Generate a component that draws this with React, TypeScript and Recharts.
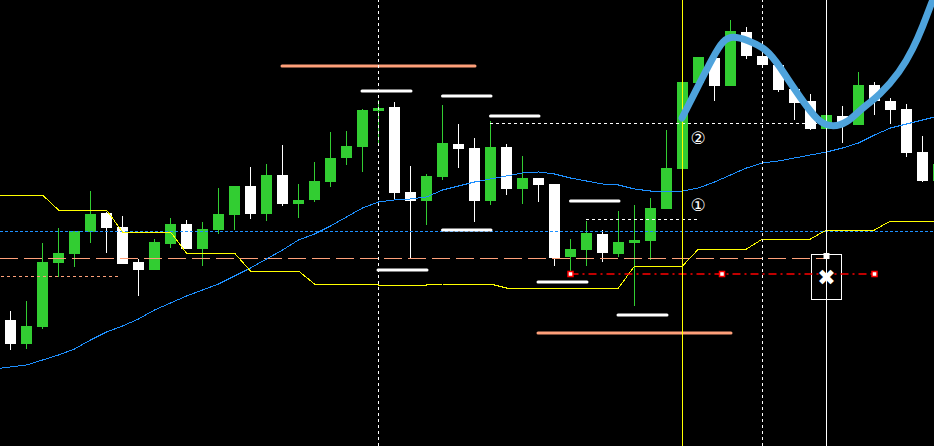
import { ComposedChart, Bar, Line, XAxis, YAxis, ReferenceLine, ReferenceArea, ReferenceDot } from 'recharts'

// Candles, bar index 0..58 (price in chart points, higher = up)
const OPEN = [126, 102, 119, 183, 192, 214, 233, 219, 184, 176, 202, 222, 197, 216, 231, 260, 232, 271, 242, 246, 264, 288, 299, 335, 339, 254, 245, 269, 302, 298, 245, 299, 257, 268, 262, 189, 196, 212, 192, 203, 205, 237, 277, 363, 388, 360, 414, 390, 381, 357, 345, 317, 330, 321, 361, 345, 337, 294, 265]
const HIGH = [135, 145, 203, 218, 215, 255, 234, 230, 187, 207, 228, 226, 224, 258, 260, 279, 282, 301, 262, 284, 314, 315, 337, 346, 344, 280, 272, 341, 322, 308, 325, 302, 290, 268, 262, 207, 225, 216, 235, 241, 248, 316, 364, 389, 391, 426, 419, 396, 384, 359, 352, 333, 340, 374, 364, 348, 342, 310, 286]
const LOW = [96, 97, 117, 169, 179, 203, 193, 182, 150, 176, 198, 197, 180, 212, 216, 227, 225, 240, 228, 244, 259, 281, 274, 303, 246, 188, 221, 266, 278, 224, 241, 251, 242, 244, 180, 170, 180, 184, 189, 140, 186, 237, 277, 363, 345, 360, 387, 381, 354, 326, 316, 317, 303, 321, 331, 322, 289, 264, 263]
const CLOSE = [102, 120, 184, 193, 215, 232, 218, 182, 176, 204, 222, 197, 217, 232, 260, 232, 271, 242, 246, 265, 288, 300, 336, 338, 253, 245, 270, 303, 297, 245, 299, 257, 268, 261, 188, 197, 213, 193, 204, 206, 238, 278, 364, 389, 360, 415, 390, 381, 356, 343, 317, 331, 322, 361, 345, 336, 293, 265, 282]

// Indicators, bar index -1..58
const MA = [77, 79, 81, 86, 91, 97, 106, 114, 120, 127, 136, 143, 150, 156, 162, 170, 178, 187, 196, 206, 212, 220, 229, 238, 244, 246, 247, 249, 256, 260, 264, 267, 270, 273, 274, 272, 268, 265, 262, 261, 257, 255, 255, 255, 258, 264, 271, 278, 283, 285, 288, 291, 294, 298, 303, 311, 318, 322, 326, 330]
const STOP = [251, 251, 251, 251, 236, 236, 236, 236, 214, 214, 214, 214, 193, 193, 193, 193, 175, 175, 175, 175, 162, 162, 162, 162, 161, 161, 161, 161, 162, 162, 162, 162, 158, 158, 158, 158, 158, 158, 158, 158, 180, 180, 180, 180, 197, 197, 197, 197, 207, 207, 207, 207, 216, 216, 216, 216, 225, 225, 225, 225]

// Hand-drawn curve
const CURVE_I = [41.97, 42.91, 43.91, 44.53, 45.16, 46.03, 47.28, 48.09, 48.91, 49.78, 50.59, 51.41, 52.28, 53.09, 54.34, 55.59, 56.41, 57.03, 57.59, 57.84]
const CURVE_P = [328, 358, 389, 406, 410, 406, 397, 379, 359, 339, 323, 319, 323, 336, 351, 374, 397, 420, 444, 454]

// Drawn objects
const WHITE_BARS = [
  { from: 21.97, to: 25.03, price: 355 },
  { from: 27, to: 30.03, price: 350 },
  { from: 30, to: 33.03, price: 330 },
  { from: 27, to: 30.03, price: 216 },
  { from: 22.97, to: 26.03, price: 176 },
  { from: 35, to: 38.03, price: 245 },
  { from: 32.97, to: 36.03, price: 164 },
  { from: 37.97, to: 41.03, price: 131 },
]
const SALMON_BARS = [
  { from: 16.97, to: 29.03, price: 380 },
  { from: 32.97, to: 45.03, price: 113 },
]
const DOTTED = [
  { from: 29.97, to: 51, price: 323 },
  { from: 35.97, to: 42.9, price: 227 },
]
const RED_POINTS = [35, 44.47, 54]
const RED_LEVEL = 172
const BLUE_LEVEL = 215
const SALMON_LEVEL = 188
const SALMON_SHORT = { from: -0.6, to: 6.8, price: 170 }
const V_DASHED = [23, 47]
const V_YELLOW = 42
const V_WHITE = 51
const LABELS = [
  { i: 42.97, price: 308, text: '②' },
  { i: 42.97, price: 241, text: '①' },
]

const candles = OPEN.map((o, i) => ({ i, open: o, high: HIGH[i], low: LOW[i], close: CLOSE[i] }))
const lines = MA.map((v, j) => ({ i: j - 1, ma: v, stop: STOP[j] }))
const curve = CURVE_I.map((i, j) => ({ i, p: CURVE_P[j] }))

function Candle(props: any) {
  const { x, y, width, height, payload } = props
  if (x == null || y == null) return null
  const { open, close, high, low } = payload
  const color = close >= open ? '#32CD32' : '#FFFFFF'
  const h = Math.abs(height)
  const top0 = height >= 0 ? y : y + height
  const span = high - low || 1
  const py = (v: number) => top0 + ((high - v) / span) * h
  const cx = x + width / 2
  const t = py(Math.max(open, close))
  const b = py(Math.min(open, close))
  return (
    <g shapeRendering="crispEdges">
      <rect x={cx - 0.5} y={top0} width={1} height={h} fill={color} />
      <rect x={cx - 5.5} y={t} width={11} height={Math.max(b - t, 2)} fill={color} />
    </g>
  )
}

const seg = (from: number, to: number, price: number) => [
  { x: from, y: price },
  { x: to, y: price },
] as any

export default function App() {
  return (
    <div style={{ width: 934, height: 446, background: '#000' }}>
      <style>{'body{margin:0;background:#000}'}</style>
      <ComposedChart width={934} height={446} data={candles} margin={{ top: 0, right: 0, bottom: 0, left: 0 }}>
        <XAxis dataKey="i" type="number" domain={[-0.65625, 57.71875]} allowDataOverflow hide />
        <YAxis type="number" domain={[0, 446]} allowDataOverflow hide />

        <ReferenceLine y={BLUE_LEVEL} stroke="#1E90FF" strokeDasharray="3 2" shapeRendering="crispEdges" ifOverflow="hidden" />
        <ReferenceLine segment={seg(-0.66, V_WHITE, SALMON_LEVEL)} stroke="#FFA07A" strokeDasharray="18 6" shapeRendering="crispEdges" ifOverflow="hidden" />
        <ReferenceLine segment={seg(SALMON_SHORT.from, SALMON_SHORT.to, SALMON_SHORT.price)} stroke="#FFA07A" strokeDasharray="3 3" shapeRendering="crispEdges" ifOverflow="hidden" />

        <Bar dataKey={(d: any) => [d.low, d.high]} barSize={11} shape={Candle} isAnimationActive={false} />

        <Line data={lines} dataKey="ma" type="linear" stroke="#1E90FF" strokeWidth={1} shapeRendering="crispEdges" dot={false} isAnimationActive={false} />
        <Line data={lines} dataKey="stop" type="linear" stroke="#FFFF00" strokeWidth={1} shapeRendering="crispEdges" dot={false} isAnimationActive={false} />

        {DOTTED.map((d, n) => (
          <ReferenceLine key={'d' + n} segment={seg(d.from, d.to, d.price)} stroke="#FFFFFF" strokeDasharray="3 3" shapeRendering="crispEdges" ifOverflow="hidden" />
        ))}
        <ReferenceLine segment={seg(RED_POINTS[0], RED_POINTS[2], RED_LEVEL)} stroke="#FF0000" strokeWidth={1.5} strokeDasharray="8 4 2 4" ifOverflow="hidden" />
        {WHITE_BARS.map((d, n) => (
          <ReferenceLine key={'w' + n} segment={seg(d.from, d.to, d.price)} stroke="#FFFFFF" strokeWidth={3} strokeLinecap="round" ifOverflow="hidden" />
        ))}
        {SALMON_BARS.map((d, n) => (
          <ReferenceLine key={'s' + n} segment={seg(d.from, d.to, d.price)} stroke="#FFA07A" strokeWidth={3} strokeLinecap="round" ifOverflow="hidden" />
        ))}

        {V_DASHED.map((v) => (
          <ReferenceLine key={'v' + v} x={v} stroke="#FFFFFF" strokeDasharray="3 3" shapeRendering="crispEdges" />
        ))}
        <ReferenceLine x={V_YELLOW} stroke="#FFFF00" shapeRendering="crispEdges" />
        <ReferenceLine x={V_WHITE} stroke="#FFFFFF" shapeRendering="crispEdges" />

        <ReferenceArea x1={50.09} x2={51.91} y1={147} y2={192} fill="none" fillOpacity={0} stroke="#FFFFFF" strokeWidth={1} shapeRendering="crispEdges" />
        <ReferenceDot x={V_WHITE} y={190} r={3} shape={(p: any) => <rect x={p.cx - 3} y={p.cy - 3} width={6} height={6} fill="#FFFFFF" />} />
        <ReferenceDot x={V_WHITE} y={169} r={3} shape={(p: any) => (
          <text x={p.cx} y={p.cy} textAnchor="middle" dominantBaseline="central" fontSize={22} fontWeight="bold" fontFamily="DejaVu Sans" fill="#FFFFFF">✖</text>
        )} />
        {RED_POINTS.map((v) => (
          <ReferenceDot key={'r' + v} x={v} y={RED_LEVEL} r={3} shape={(p: any) => (
            <rect x={p.cx - 2.5} y={p.cy - 2.5} width={5} height={5} fill="#FFFFFF" stroke="#FF0000" strokeWidth={1.5} />
          )} />
        ))}
        {LABELS.map((l) => (
          <ReferenceDot key={l.text} x={l.i} y={l.price} r={3} shape={(p: any) => (
            <text x={p.cx} y={p.cy} textAnchor="middle" dominantBaseline="central" fontSize={17} fontFamily="DejaVu Sans" fill="#FFFFFF">{l.text}</text>
          )} />
        ))}

        <Line data={curve} dataKey="p" type="basis" stroke="#4EA3DC" strokeWidth={7} strokeLinecap="round" dot={false} isAnimationActive={false} />
      </ComposedChart>
    </div>
  )
}
